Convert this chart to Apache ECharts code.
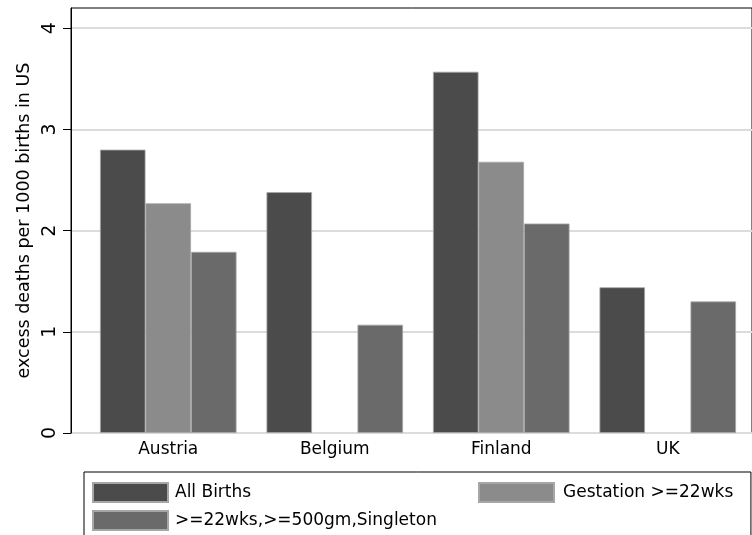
<!DOCTYPE html>
<html>
<head>
<meta charset="utf-8">
<script src="https://cdn.jsdelivr.net/npm/echarts@6/dist/echarts.min.js"></script>
<style>
html,body{margin:0;padding:0;background:#fff;}
#chart{width:752px;height:535px;}
</style>
</head>
<body>
<div id="chart"></div>
<script>
var categories = ['Austria', 'Belgium', 'Finland', 'UK'];
var allBirths = [2.80, 2.38, 3.57, 1.44];
var gestation22 = [2.27, null, 2.68, null];
var singleton = [1.79, 1.07, 2.07, 1.30];
var yTicks = [0, 1, 2, 3, 4];
var seriesNames = ['All Births', 'Gestation >=22wks', '>=22wks,>=500gm,Singleton'];

var FONT = 'DejaVu Sans';
var chart = echarts.init(document.getElementById('chart'), null, {renderer: 'canvas'});
var barBorder = {borderColor: '#a6a6a6', borderWidth: 0.8};

chart.setOption({
  backgroundColor: '#ffffff',
  animation: false,
  textStyle: {fontFamily: FONT, color: '#000'},
  grid: [
    {left: 71, right: -3, top: 8, bottom: 102, show: true, borderColor: '#000', borderWidth: 1, backgroundColor: 'transparent'},
    {left: 85, right: 1, top: 8, bottom: 102}
  ],
  xAxis: [
    {gridIndex: 0, type: 'value', show: false, min: 0, max: 1},
    {gridIndex: 1, type: 'category', data: categories,
     axisLine: {show: false}, axisTick: {show: false},
     axisLabel: {fontFamily: FONT, fontSize: 17, color: '#000', margin: 8}}
  ],
  yAxis: [
    {gridIndex: 0, type: 'value', min: 0, max: 4.2, interval: 1,
     name: 'excess deaths per 1000 births in US', nameLocation: 'middle', nameGap: 36,
     nameTextStyle: {fontFamily: FONT, fontSize: 17.5, color: '#000'},
     axisLine: {show: true, lineStyle: {color: '#000', width: 1}},
     axisTick: {show: true, length: 8, lineStyle: {color: '#000'}, customValues: yTicks},
     axisLabel: {rotate: 90, fontFamily: FONT, fontSize: 19, color: '#000', margin: 11, customValues: yTicks},
     splitLine: {show: true, lineStyle: {color: '#dcdcdc', width: 2}}},
    {gridIndex: 1, type: 'value', min: 0, max: 4.2, show: false}
  ],
  legend: [
    {data: [seriesNames[0], seriesNames[2]], orient: 'vertical', left: 84, top: 472, height: 70,
     itemWidth: 75, itemHeight: 19, itemGap: 7, icon: 'rect',
     padding: [10, 314, 12, 8], borderColor: '#000', borderWidth: 1,
     textStyle: {fontFamily: FONT, fontSize: 17, color: '#000', padding: [0, 0, 0, 2]}},
    {data: [seriesNames[1]], orient: 'vertical', left: 478, top: 482,
     itemWidth: 75, itemHeight: 19, icon: 'rect', padding: 0,
     textStyle: {fontFamily: FONT, fontSize: 17, color: '#000', padding: [0, 0, 0, 4]}}
  ],
  series: [
    {name: seriesNames[0], type: 'bar', xAxisIndex: 1, yAxisIndex: 1, data: allBirths,
     barGap: '0%', barCategoryGap: '18%',
     itemStyle: Object.assign({color: '#4b4b4b'}, barBorder)},
    {name: seriesNames[1], type: 'bar', xAxisIndex: 1, yAxisIndex: 1, data: gestation22,
     barGap: '0%', barCategoryGap: '18%',
     itemStyle: Object.assign({color: '#8b8b8b'}, barBorder)},
    {name: seriesNames[2], type: 'bar', xAxisIndex: 1, yAxisIndex: 1, data: singleton,
     barGap: '0%', barCategoryGap: '18%',
     itemStyle: Object.assign({color: '#6a6a6a'}, barBorder)}
  ]
});
</script>
</body>
</html>
